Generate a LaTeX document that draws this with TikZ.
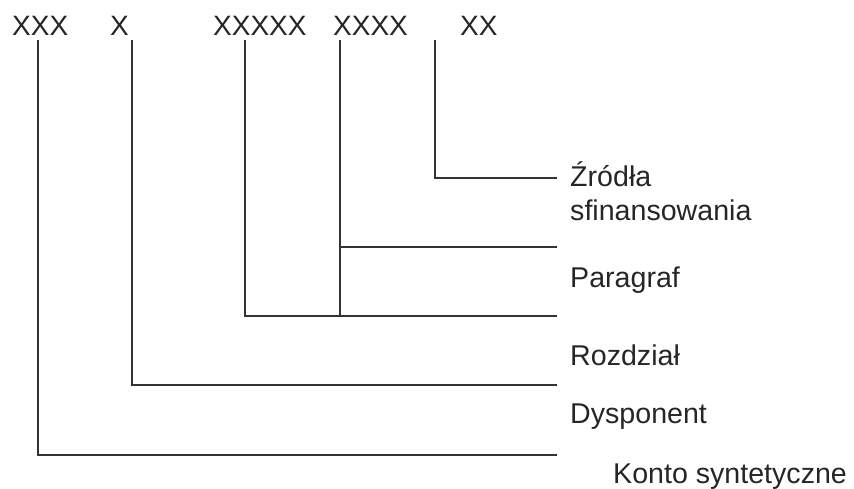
\documentclass[tikz,border=0pt]{standalone}
\usepackage{fontspec}
\setmainfont{Liberation Sans}
\usetikzlibrary{positioning}
\tikzset{
segment/.style = { anchor = base west, inner sep = 0pt, font = \fontsize{28}{34}\selectfont, text = black!85 },
meaning/.style = { anchor = base west, inner sep = 0pt, font = \fontsize{28.6}{34}\selectfont, text = black!85 },
tree/.style = { draw = black!80, line width = 1.4pt },
}
\begin{document}
\begin{tikzpicture}[x = 1pt, y = -1pt]
    \useasboundingbox (0, 0) rectangle (854, 488);
    % number segments
    \node[segment] (seg konto) at (12, 35) {XXX};
    \node[segment] (seg dysp) at (110, 35) {X};
    \node[segment] (seg rozd) at (213, 35) {XXXXX};
    \node[segment] (seg par) at (333, 35) {XXXX};
    \node[segment] (seg zr) at (460, 35) {XX};
    % descriptions
    \node[meaning] (m zr) at (570, 186) {Źródła};
    \node[meaning] (m zr2) at (570, 220) {sfinansowania};
    \node[meaning] (m par) at (570, 287) {Paragraf};
    \node[meaning] (m rozd) at (570, 365) {Rozdział};
    \node[meaning] (m dysp) at (570, 423) {Dysponent};
    \node[meaning] (m konto) at (613, 483) {Konto syntetyczne};
    % line ends
    \coordinate (top konto) at (38, 40);
    \coordinate (top dysp) at (132, 40);
    \coordinate (top rozd) at (245, 40);
    \coordinate (top par) at (340, 40);
    \coordinate (top zr) at (435, 40);
    \coordinate (end zr) at (557, 178);
    \coordinate (end par) at (557, 247);
    \coordinate (end rozd) at (557, 316);
    \coordinate (end dysp) at (557, 385);
    \coordinate (end konto) at (557, 455);
    % brackets
    \draw[tree] (top konto) |- (end konto);
    \draw[tree] (top dysp) |- (end dysp);
    \draw[tree] (top rozd) |- (end rozd);
    \draw[tree] (top par) -- (top par |- end rozd);
    \draw[tree] (top par |- end par) -- (end par);
    \draw[tree] (top zr) |- (end zr);
\end{tikzpicture}
\end{document}
